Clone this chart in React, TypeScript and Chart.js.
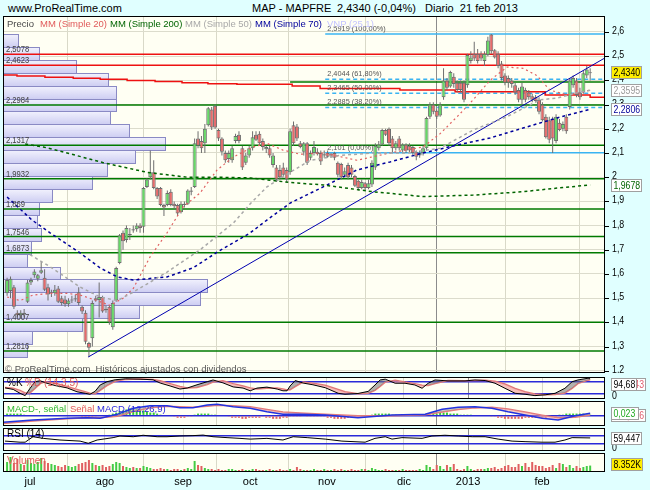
import React, { useEffect, useRef } from 'react';
import { Chart, registerables } from 'chart.js';

Chart.register(...registerables);

const FONT = '"Liberation Sans", Arial, Helvetica, sans-serif';

// ---------------- axis data ----------------
const monthTickIdx = [6.7, 28.7, 51.6, 71.3, 93.8, 116.4, 135.2, 156.9];
const monthLabels = ['jul', 'ago', 'sep', 'oct', 'nov', 'dic', '2013', 'feb'];
const priceTicks = [1.2, 1.3, 1.4, 1.5, 1.6, 1.7, 1.8, 1.9, 2.0, 2.1, 2.2, 2.3, 2.4, 2.5, 2.6];
const priceTickLabels = ['1,2', '1,3', '1,4', '1,5', '1,6', '1,7', '1,8', '1,9', '2', '2,1', '2,2', '2,3', '2,4', '2,5', '2,6'];

// ---------------- daily candles [open, high, low, close] ----------------
const ohlc: number[][] = [
  [1.52, 1.585, 1.51, 1.575], [1.53, 1.59, 1.5, 1.58], [1.545, 1.555, 1.455, 1.465], [1.44, 1.45, 1.42, 1.43], [1.43, 1.45, 1.415, 1.44],
  [1.44, 1.455, 1.42, 1.435], [1.485, 1.575, 1.48, 1.565], [1.565, 1.585, 1.555, 1.575], [1.595, 1.62, 1.585, 1.61], [1.58, 1.6, 1.57, 1.595],
  [1.605, 1.65, 1.6, 1.615], [1.585, 1.62, 1.53, 1.535], [1.545, 1.56, 1.49, 1.515], [1.52, 1.535, 1.505, 1.525], [1.52, 1.555, 1.51, 1.535],
  [1.54, 1.55, 1.48, 1.485], [1.5, 1.51, 1.47, 1.48], [1.495, 1.51, 1.465, 1.475], [1.475, 1.5, 1.465, 1.49], [1.49, 1.51, 1.48, 1.495],
  [1.495, 1.515, 1.485, 1.5], [1.525, 1.545, 1.47, 1.48], [1.465, 1.47, 1.435, 1.445], [1.44, 1.45, 1.31, 1.32], [1.315, 1.32, 1.257, 1.295],
  [1.335, 1.49, 1.3, 1.48], [1.5, 1.51, 1.485, 1.49], [1.493, 1.565, 1.42, 1.505], [1.505, 1.51, 1.44, 1.445], [1.455, 1.47, 1.44, 1.45],
  [1.465, 1.47, 1.39, 1.4], [1.38, 1.49, 1.37, 1.48], [1.49, 1.63, 1.485, 1.625], [1.645, 1.765, 1.64, 1.76], [1.77, 1.78, 1.7, 1.735],
  [1.74, 1.8, 1.73, 1.79], [1.76, 1.79, 1.74, 1.765], [1.785, 1.8, 1.77, 1.78], [1.785, 1.81, 1.775, 1.8], [1.8, 1.81, 1.77, 1.79],
  [1.795, 1.96, 1.77, 1.955], [1.96, 1.995, 1.955, 1.99], [2.0, 2.11, 1.99, 2.02], [2.02, 2.07, 1.95, 1.955], [1.955, 1.96, 1.91, 1.92],
  [1.955, 1.96, 1.88, 1.885], [1.885, 1.89, 1.84, 1.875], [1.885, 1.945, 1.88, 1.935], [1.94, 1.95, 1.88, 1.885], [1.89, 1.9, 1.87, 1.88],
  [1.885, 1.89, 1.84, 1.85], [1.855, 1.9, 1.85, 1.89], [1.89, 1.9, 1.875, 1.885], [1.89, 1.95, 1.885, 1.945], [1.94, 1.96, 1.925, 1.945],
  [1.96, 2.16, 1.955, 2.14], [2.16, 2.19, 2.12, 2.13], [2.15, 2.17, 2.1, 2.12], [2.14, 2.22, 2.1, 2.2], [2.215, 2.29, 2.21, 2.285],
  [2.28, 2.29, 2.195, 2.205], [2.295, 2.3, 2.2, 2.205], [2.195, 2.2, 2.15, 2.16], [2.16, 2.165, 2.09, 2.105], [2.1, 2.11, 2.06, 2.07],
  [2.075, 2.11, 2.06, 2.1], [2.07, 2.13, 2.06, 2.12], [2.15, 2.18, 2.14, 2.17], [2.175, 2.19, 2.14, 2.15], [2.12, 2.13, 2.03, 2.04],
  [2.06, 2.1, 2.05, 2.09], [2.09, 2.13, 2.08, 2.12], [2.12, 2.19, 2.11, 2.165], [2.175, 2.19, 2.15, 2.155], [2.18, 2.19, 2.13, 2.14],
  [2.15, 2.16, 2.11, 2.125], [2.115, 2.13, 2.1, 2.125], [2.12, 2.13, 2.08, 2.09], [2.05, 2.1, 2.04, 2.09], [2.04, 2.05, 1.98, 1.99],
  [2.03, 2.05, 1.99, 2.0], [2.04, 2.06, 2.0, 2.01], [2.03, 2.04, 1.98, 1.99], [2.02, 2.2, 2.01, 2.19], [2.215, 2.23, 2.13, 2.14],
  [2.21, 2.22, 2.15, 2.16], [2.14, 2.15, 2.12, 2.125], [2.105, 2.145, 2.09, 2.14], [2.14, 2.145, 2.05, 2.06], [2.08, 2.11, 2.07, 2.1],
  [2.1, 2.15, 2.09, 2.125], [2.105, 2.12, 2.09, 2.095], [2.1, 2.11, 2.05, 2.065], [2.09, 2.11, 2.08, 2.095], [2.1, 2.11, 2.08, 2.085],
  [2.09, 2.1, 2.08, 2.095], [2.1, 2.105, 2.07, 2.08], [2.06, 2.065, 2.0, 2.01], [2.055, 2.06, 1.99, 2.0], [2.01, 2.04, 2.0, 2.025],
  [2.05, 2.06, 1.99, 2.0], [2.04, 2.05, 2.0, 2.01], [2.005, 2.01, 1.96, 1.965], [1.985, 1.99, 1.945, 1.955], [1.955, 1.99, 1.95, 1.98],
  [1.975, 1.98, 1.945, 1.955], [1.955, 1.99, 1.95, 1.975], [1.97, 2.07, 1.96, 2.06], [2.04, 2.14, 2.03, 2.13], [2.12, 2.15, 2.11, 2.135],
  [2.135, 2.2, 2.13, 2.195], [2.195, 2.2, 2.17, 2.175], [2.2, 2.205, 2.13, 2.14], [2.16, 2.17, 2.1, 2.12], [2.12, 2.15, 2.11, 2.14],
  [2.16, 2.17, 2.11, 2.12], [2.11, 2.14, 2.1, 2.135], [2.135, 2.14, 2.1, 2.11], [2.13, 2.14, 2.1, 2.11], [2.125, 2.13, 2.09, 2.1],
  [2.105, 2.11, 2.07, 2.085], [2.09, 2.11, 2.08, 2.1], [2.1, 2.13, 2.09, 2.12], [2.12, 2.25, 2.11, 2.245], [2.25, 2.31, 2.24, 2.3],
  [2.3, 2.31, 2.26, 2.27], [2.275, 2.28, 2.24, 2.25], [2.255, 2.31, 2.25, 2.3], [2.33, 2.45, 2.32, 2.4], [2.4, 2.41, 2.36, 2.37],
  [2.375, 2.44, 2.37, 2.435], [2.415, 2.43, 2.37, 2.385], [2.39, 2.4, 2.35, 2.36], [2.39, 2.4, 2.35, 2.36], [2.39, 2.4, 2.31, 2.32],
  [2.38, 2.51, 2.37, 2.505], [2.48, 2.52, 2.47, 2.495], [2.51, 2.56, 2.48, 2.49], [2.51, 2.53, 2.47, 2.48], [2.51, 2.52, 2.48, 2.49],
  [2.48, 2.52, 2.46, 2.51], [2.505, 2.58, 2.5, 2.565], [2.59, 2.592, 2.51, 2.52], [2.525, 2.53, 2.49, 2.495], [2.51, 2.52, 2.45, 2.46],
  [2.47, 2.48, 2.4, 2.41], [2.42, 2.43, 2.38, 2.39], [2.41, 2.42, 2.37, 2.39], [2.4, 2.41, 2.37, 2.385], [2.38, 2.39, 2.34, 2.35],
  [2.36, 2.37, 2.31, 2.32], [2.32, 2.39, 2.3, 2.375], [2.36, 2.37, 2.31, 2.32], [2.35, 2.36, 2.32, 2.33], [2.335, 2.345, 2.31, 2.32],
  [2.33, 2.34, 2.31, 2.315], [2.32, 2.33, 2.26, 2.27], [2.3, 2.31, 2.23, 2.235], [2.25, 2.26, 2.16, 2.165], [2.235, 2.25, 2.14, 2.155],
  [2.24, 2.25, 2.1, 2.16], [2.15, 2.26, 2.14, 2.25], [2.225, 2.24, 2.19, 2.195], [2.2, 2.23, 2.19, 2.22], [2.25, 2.26, 2.18, 2.19],
  [2.29, 2.41, 2.28, 2.4], [2.38, 2.42, 2.37, 2.41], [2.4, 2.41, 2.33, 2.34], [2.35, 2.37, 2.32, 2.33], [2.35, 2.44, 2.345, 2.43],
  [2.42, 2.46, 2.41, 2.445], [2.43, 2.45, 2.4, 2.434],
];

// daily volume (thousands)
const volumeK: number[] = [
  13, 19.5, 11.7, 16.9, 10.4, 9.1, 15.6, 11.7, 10.4, 13, 18.2, 14.3, 11.7, 10.4, 9.1,
  7.8, 6.5, 9.1, 7.8, 6.5, 7.8, 10.4, 11.7, 13, 15.6, 11.7, 9.1, 7.8, 9.1, 6.5, 7.8,
  10.4, 13, 11.7, 7.8, 6.5, 5.2, 6.5, 5.2, 5.2, 7.8,
  6.5, 5.2, 3.9, 3.9, 5.2, 3.9, 3.9, 2.6, 3.9, 3.9, 2.6, 3.9, 5.2, 3.9, 14.3, 9.1,
  7.8, 5.2, 3.9, 3.9, 2.6, 3.9, 2.6, 2.6, 3.9, 3.9, 2.6, 2.6, 3.9, 2.6, 2.6, 3.9, 3.9, 2.6, 2.6, 2.6, 3.9, 2.6, 2.6, 3.9, 2.6, 2.6, 3.9, 2.6, 6.5, 3.9, 2.6, 2.6, 2.6, 3.9, 2.6, 2.6, 3.9, 2.6,
  2.6, 3.9, 2.6, 3.9, 2.6, 2.6, 3.9, 2.6, 2.6, 3.9, 3.9, 2.6, 5.2, 3.9, 2.6, 2.6, 3.9, 2.6, 2.6, 2.6, 2.6, 3.9, 2.6, 2.6, 2.6, 2.6, 3.9, 2.6,
  9.1, 6.5, 3.9, 9.1, 7.8, 3.9, 9.1, 6.5, 10.4, 3.9, 2.6, 3.9, 7.8,
  3.9, 2.6, 3.9, 3.9, 3.9, 5.2, 5.2, 6.5, 3.9, 5.2, 7.8, 9.1, 6.5, 6.5, 10.4, 7.8, 11.7, 6.5, 13, 9.1, 7.8, 7.8, 5.2, 6.5, 9.1, 5.2, 11.7, 10.4, 6.5, 9.1, 5.2, 7.8, 5.2, 6.5, 7.8, 8.352,
];

// ---------------- moving averages (day index, price) ----------------
const ma20Idx = [0, 3.8, 7.6, 12.6, 17.6, 21.4, 26.4, 30.2, 34, 37, 41.9, 46.9, 51.6, 56.6, 61.6, 66.3, 72.1, 76.2, 80.9, 85.9, 92.7, 102.6, 112.3, 122, 127, 132, 136.7, 141.6, 146.6, 151.3, 155.4, 159.2, 164.2, 168, 171];
const ma20Val = [1.505, 1.49, 1.513, 1.52, 1.52, 1.513, 1.49, 1.47, 1.5, 1.54, 1.67, 1.77, 1.877, 1.935, 2.03, 2.083, 2.125, 2.14, 2.112, 2.095, 2.1, 2.07, 2.1, 2.125, 2.18, 2.25, 2.32, 2.4, 2.455, 2.45, 2.42, 2.36, 2.34, 2.35, 2.36];
const ma50Idx = [6.7, 12.6, 21.4, 27.3, 32.3, 37, 46.9, 56.6, 66.3, 71.3, 76.2, 83, 88.9, 97.7, 107.3, 117.3, 127, 136.7, 146.6, 156.3, 161.3, 168, 171];
const ma50Val = [1.68, 1.63, 1.546, 1.505, 1.49, 1.525, 1.608, 1.7, 1.81, 1.89, 1.96, 2.02, 2.07, 2.09, 2.1, 2.1, 2.12, 2.195, 2.25, 2.32, 2.327, 2.352, 2.3595];
const ma70Idx = [0, 7.3, 12.6, 21.4, 27.3, 32.3, 37, 46.9, 54.5, 61.6, 71.3, 76.2, 83, 92.7, 102.6, 112.3, 122, 132, 141.6, 151.3, 161.3, 171];
const ma70Val = [1.918, 1.823, 1.77, 1.687, 1.625, 1.588, 1.575, 1.588, 1.625, 1.69, 1.77, 1.823, 1.893, 1.96, 2.03, 2.063, 2.1, 2.133, 2.162, 2.203, 2.245, 2.2806];
const ma200Idx = [5.3, 10.6, 17.6, 28.2, 41.1, 46.9, 52.8, 61.6, 71.3, 83, 92.7, 107.3, 122, 136.7, 151.3, 161.3, 171];
const ma200Val = [2.137, 2.125, 2.1, 2.06, 2.02, 2.01, 2.0, 2.0, 1.997, 1.978, 1.968, 1.94, 1.92, 1.926, 1.94, 1.955, 1.9678];

// trendline and levels
const trendIdx = [23.8, 175.35];
const trendVal = [1.257, 2.493];
const redLevels = [2.5078, 2.4623];
const greenLevels = [2.2984, 2.1317, 1.9932, 1.869, 1.7546, 1.6873, 1.4007, 1.2816];
const greenPartialIdx = 83;
const greenPartialVal = 2.393;
const redStepIdx = [-1.2, 2.9, 11.1, 19.4, 27.3, 35.2, 43.4, 51.3, 58.9, 67.4, 83.6, 91.8, 115.2, 131.4, 157.8, 171, 175.35];
const redStepVal = [2.422, 2.418, 2.413, 2.409, 2.405, 2.4, 2.395, 2.39, 2.386, 2.384, 2.377, 2.367, 2.36, 2.353, 2.34, 2.33, 2.33];
const fibStartIdx = 93.3;
const fibLevels = [2.5919, 2.4044, 2.3465, 2.2885, 2.101];
const fibPct = ['100,00%', '61,80%', '50,00%', '38,20%', '0,00%'];

// volume-by-price profile (25 bins, bottom to top)
const profileRange = [1.257, 2.5919];
const profileVol = [24, 29, 79, 136, 197, 204, 57, 24, 28, 38, 34, 36, 49, 89, 104, 132, 162, 126, 107, 113, 113, 105, 73, 36, 15];

// ---------------- indicators ----------------
const stochIdx = [-0.6, 1.8, 3.8, 5.3, 6.7, 8.2, 9.7, 11.1, 14.1, 17.6, 20.5, 22.9, 24.3, 25.8, 27.3, 29.3, 31.7, 34.8, 39, 42.8, 44.9, 47.8, 50.7, 52.8, 55.7, 58.7, 60.4, 63.3, 66.3, 69.2, 71.3, 73.3, 76.2, 79.2, 80.9, 82.1, 83, 84.5, 86.8, 89.7, 93.3, 97.1, 99.1, 102.9, 105.9, 107.9, 109.4, 110.9, 113.8, 116.7, 119.6, 121.7, 123.5, 125.5, 129.3, 134.3, 137.2, 140.2, 143.1, 146, 149, 151.9, 154.8, 157.8, 160.7, 163.6, 165.7, 167.4, 170.4, 171];
const stochK = [48, 40, 20, 8, 45, 80, 85, 75, 60, 48, 28, 20, 15, 30, 63, 80, 90, 95, 93, 90, 73, 58, 42, 47, 64, 80, 89, 74, 53, 47, 33, 47, 52, 42, 33, 33, 58, 86, 73, 64, 49, 20, 15, 19, 30, 63, 89, 93, 72, 72, 63, 46, 72, 89, 84, 84, 89, 86, 72, 46, 20, 15, 8, 12, 20, 46, 80, 89, 98, 94.68];
const stochD = [50, 46, 35, 22, 22, 45, 70, 80, 72, 55, 40, 28, 20, 18, 35, 60, 82, 92, 94, 92, 85, 70, 55, 47, 50, 65, 78, 85, 70, 58, 48, 42, 46, 48, 42, 37, 38, 55, 78, 72, 62, 40, 28, 18, 20, 35, 55, 78, 88, 78, 70, 62, 60, 70, 86, 85, 86, 88, 82, 68, 45, 28, 16, 12, 14, 22, 45, 70, 88, 89.43];

const macdIdx = [-1.2, 7.6, 17.6, 23.5, 27.3, 32.3, 37, 41.9, 46.9, 50.7, 54.5, 58.7, 61.6, 66.3, 71.3, 76.2, 80.9, 85.9, 93.3, 102.9, 112.9, 122.6, 127.6, 132.3, 137.2, 142.2, 146.9, 151.9, 156.9, 161.6, 166.6, 171];
const macdLine = [-0.063, -0.041, -0.025, -0.019, -0.025, 0.013, 0.071, 0.096, 0.096, 0.077, 0.077, 0.103, 0.109, 0.086, 0.071, 0.038, 0.013, 0.013, 0.007, -0.019, 0.007, 0.013, 0.061, 0.081, 0.086, 0.071, 0.038, 0.007, -0.025, -0.041, 0, 0.023];
const macdSignal = [-0.075, -0.05, -0.03, -0.02, -0.02, -0.005, 0.04, 0.075, 0.09, 0.085, 0.08, 0.09, 0.1, 0.095, 0.085, 0.06, 0.035, 0.025, 0.015, 0, 0, 0.01, 0.035, 0.06, 0.075, 0.08, 0.065, 0.035, 0.005, -0.02, -0.015, 0.006];
// histogram per day, in hundredths
const macdHist = [
  2, 2, 2, 2, 2, 1,
  0, 0, 0, 0, 0, 0, 0, 0, 0, 0, 0, 0, 0, 0, 0, 0,
  -2, -2, -2, -2, -1, 0, 0, 0,
  1, 2, 3, 4, 5, 6, 7, 7, 6, 6, 5, 4, 3, 3, 2, 1,
  0, 0, 0, -1, -2, -2, -2, -1, -1,
  1, 2, 2, 2, 2, 1, 1, 0, 0, 0,
  -1, -2, -2, -2, -3, -3, -2, -2, -2, -2, -1, -2, -2, -3, -3, -3, -2, -2, -1,
  -1, -1, -1, 0, -1, -1, -1, -1, -1,
  -1, -2, -2, -3, -3, -3, -3, -2, -2, -2, -2, -2, -1, -1,
  1, 2, 2, 2, 2, 2, 1, 1,
  0, 0, 0, 0, 0, 0, 0, 1, 1, 1, 2,
  2, 3, 3, 3, 2, 2, 2, 1, 1, 1,
  1, 0, 0, 0, 0, 0,
  -1, -1, -2, -2, -3, -3, -3, -3, -3, -3, -2, -2, -2, -2, -2, -2, -2, -1, -1, -1,
  1, 1, 2, 2, 2, 2, 2, 2, 1, 1,
];

const rsiIdx = [-0.6, 3.8, 5.3, 7.6, 10.6, 15.5, 21.4, 23.8, 26.4, 31.1, 33.1, 37, 39.9, 44, 46.9, 50.7, 54.5, 57.5, 60.4, 64.5, 68.3, 71.3, 76.2, 80.9, 83.9, 88, 93.3, 98.2, 105, 107.9, 110.9, 112.9, 115.8, 121.7, 124.6, 128.4, 132.3, 136.4, 140.2, 144, 148.1, 151.9, 156.9, 160.7, 163.6, 165.7, 171];
const rsiVal = [42, 36, 36, 66, 57, 48, 42, 30, 48, 61, 70, 66, 74, 66, 66, 70, 72, 75, 66, 61, 57, 53, 57, 48, 66, 61, 53, 42, 36, 57, 66, 53, 61, 57, 70, 74, 70, 66, 66, 53, 42, 39, 36, 36, 48, 61, 59.447];

// ---------------- helpers ----------------
const X_MIN = -1.2;
const X_MAX = 175.35;
const PLOT_BG = '#fffff3';
const GRID = '#d9d9c8';
const LEVEL_BLUE = '#2a2ad8';
const UP = '#66d966';
const DOWN = '#e66a6a';

type Pt = { x: number; y: number };
const pts = (xs: number[], ys: number[]): Pt[] => xs.map((x, i) => ({ x, y: ys[i] }));
const flat = (x0: number, x1: number, v: number): Pt[] => [{ x: x0, y: v }, { x: x1, y: v }];
const fmt = (v: number, d: number) => v.toFixed(d).replace('.', ',');
const last = (a: number[]) => a[a.length - 1];
const isUp = (c: number[]) => c[3] >= c[0];

// draw horizontally condensed text
function nText(ctx: any, text: string, x: number, y: number, size: number, sx: number, align: string = 'left', baseline: string = 'middle') {
  ctx.save();
  ctx.font = `${size}px ${FONT}`;
  ctx.textAlign = align;
  ctx.textBaseline = baseline;
  ctx.translate(x, y);
  ctx.scale(sx, 1);
  ctx.fillText(text, 0, 0);
  ctx.restore();
}

function xScale(labels: boolean, height: number) {
  return {
    type: 'linear',
    min: X_MIN,
    max: X_MAX,
    offset: false,
    afterBuildTicks: (s: any) => {
      s.ticks = monthTickIdx.map((v) => ({ value: v }));
    },
    afterFit: (s: any) => {
      s.height = height;
    },
    border: { display: false },
    grid: {
      drawTicks: false,
      lineWidth: 1,
      color: (c: any) => (c.tick && c.tick.value === monthTickIdx[6] ? '#8c8c8c' : GRID),
    },
    ticks: {
      display: labels,
      autoSkip: false,
      maxRotation: 0,
      padding: 3,
      color: '#000',
      font: { size: 11, family: FONT },
      callback: (_v: any, i: number) => monthLabels[i],
    },
  };
}

function yScale(min: number, max: number, ticks: number[], color: string, width: number) {
  return {
    type: 'linear',
    position: 'right',
    min,
    max,
    afterBuildTicks: (s: any) => {
      s.ticks = ticks.map((v) => ({ value: v }));
    },
    afterFit: (s: any) => {
      s.width = 45;
    },
    border: { display: false },
    grid: { drawTicks: false, color, lineWidth: width },
    ticks: { display: false },
  };
}

function line(data: Pt[], color: string, width: number, dash: number[], order: number, extra: any = {}) {
  return {
    type: 'line',
    data,
    borderColor: color,
    borderWidth: width,
    borderDash: dash,
    pointRadius: 0,
    fill: false,
    tension: 0,
    order,
    ...extra,
  };
}

type Box = { v: number; text: string; bg: string; color: string; dx?: number; w?: number; align?: 'left' | 'right' };
type PanelOpts = {
  ticks?: [number, string, boolean][];
  boxes?: Box[];
  clamp?: boolean;
  before?: (chart: any) => void;
  extra?: (chart: any) => void;
};

function panelPlugin(opts: PanelOpts) {
  return {
    id: 'panel',
    beforeDraw(chart: any) {
      const { ctx, chartArea: a } = chart;
      ctx.save();
      ctx.fillStyle = PLOT_BG;
      ctx.fillRect(a.left, a.top, a.right - a.left, a.bottom - a.top);
      ctx.restore();
    },
    beforeDatasetsDraw(chart: any) {
      if (opts.before) opts.before(chart);
    },
    afterDatasetsDraw(chart: any) {
      if (opts.extra) opts.extra(chart);
    },
    afterDraw(chart: any) {
      const { ctx, chartArea: a } = chart;
      const y = chart.scales.y;
      ctx.save();
      ctx.strokeStyle = '#000';
      ctx.lineWidth = 1;
      ctx.strokeRect(Math.round(a.left) + 0.5, Math.round(a.top) + 0.5, Math.round(a.right - a.left) - 1, Math.round(a.bottom - a.top) - 1);
      for (const [v, t, mark] of opts.ticks || []) {
        const py = Math.round(y.getPixelForValue(v)) + 0.5;
        if (mark) {
          ctx.strokeStyle = '#000';
          ctx.beginPath();
          ctx.moveTo(a.right, py);
          ctx.lineTo(a.right + 4, py);
          ctx.stroke();
        }
        ctx.fillStyle = '#000';
        nText(ctx, t, a.right + 7, py - 1, 10.5, 0.84);
      }
      for (const b of opts.boxes || []) {
        let cy = y.getPixelForValue(b.v);
        if (opts.clamp) cy = Math.max(a.top + 7, Math.min(a.bottom - 8, cy));
        const h = 12;
        const w = b.w ?? 30;
        const x0 = Math.round(a.right) + (b.dx ?? 6) + 0.5;
        const top = Math.round(cy - h / 2) + 0.5;
        ctx.fillStyle = b.bg;
        ctx.fillRect(x0, top, w, h);
        ctx.strokeStyle = '#a0a0a0';
        ctx.lineWidth = 1;
        ctx.strokeRect(x0, top, w, h);
        ctx.fillStyle = b.color;
        if (b.align === 'right') nText(ctx, b.text, x0 + w - 1.5, top + h / 2 + 0.5, 10.5, 0.83, 'right');
        else nText(ctx, b.text, x0 + 2, top + h / 2 + 0.5, 10.5, 0.83, 'left');
      }
      ctx.restore();
    },
  };
}

const common: any = {
  animation: false,
  responsive: false,
  maintainAspectRatio: false,
  devicePixelRatio: 1,
  events: [],
  layout: { padding: 0 },
  plugins: { legend: { display: false }, tooltip: { enabled: false } },
};

// ---------------- charts ----------------
function mainConfig(): any {
  const datasets: any[] = [];
  redLevels.forEach((v) => datasets.push(line(flat(X_MIN, X_MAX, v), '#ee1111', 1.5, [], 50)));
  greenLevels.forEach((v) => datasets.push(line(flat(X_MIN, X_MAX, v), '#007a00', 1.5, [], 50)));
  datasets.push(line(flat(greenPartialIdx, X_MAX, greenPartialVal), '#007a00', 1.5, [], 50));
  datasets.push(line(pts(redStepIdx, redStepVal), '#ee1111', 1.5, [], 50, { stepped: true }));
  fibLevels.forEach((v, i) =>
    datasets.push(line(flat(fibStartIdx, X_MAX, v), '#3ab4f2', 1.5, i === 0 || i === fibLevels.length - 1 ? [] : [4, 3], 50)),
  );
  datasets.push({
    type: 'bar',
    data: ohlc.map((c, i) => ({ x: i, y: [c[2], c[1]] })),
    backgroundColor: '#6e6e6e',
    barThickness: 1,
    grouped: false,
    inflateAmount: 0,
    order: 30,
  });
  datasets.push({
    type: 'bar',
    data: ohlc.map((c, i) => ({ x: i, y: [c[0], c[3]] })),
    backgroundColor: ohlc.map((c) => (isUp(c) ? UP : DOWN)),
    borderColor: '#6e6e6e',
    borderWidth: 1,
    borderSkipped: false,
    barThickness: 4,
    minBarLength: 1,
    grouped: false,
    inflateAmount: 0,
    order: 29,
  });
  datasets.push(line(pts(trendIdx, trendVal), '#0000b0', 1, [], 20));
  datasets.push(line(pts(ma200Idx, ma200Val), '#006400', 1.5, [3, 3], 10));
  datasets.push(line(pts(ma50Idx, ma50Val), '#a8a8a8', 1.5, [3, 3], 10));
  datasets.push(line(pts(ma70Idx, ma70Val), '#00009c', 1.5, [3, 3], 10));
  datasets.push(line(pts(ma20Idx, ma20Val), '#e06060', 1.2, [2, 3], 10));

  const plugin = panelPlugin({
    ticks: priceTicks.map((v, i) => [v, priceTickLabels[i], true] as [number, string, boolean]),
    boxes: [
      { v: last(ohlc)[3], text: fmt(last(ohlc)[3], 4), bg: '#ffee00', color: '#000' },
      { v: last(ma50Val), text: fmt(last(ma50Val), 4), bg: '#ffffff', color: '#9a9a9a' },
      { v: last(ma70Val), text: fmt(last(ma70Val), 4), bg: '#ffffff', color: '#000099' },
      { v: last(ma200Val), text: fmt(last(ma200Val), 4), bg: '#ffffff', color: '#006400' },
    ],
    before: (chart: any) => {
      const { ctx } = chart;
      const y = chart.scales.y;
      const xp = chart.scales.xp;
      const step = (profileRange[1] - profileRange[0]) / profileVol.length;
      ctx.save();
      profileVol.forEach((v, k) => {
        const top = Math.round(y.getPixelForValue(profileRange[0] + (k + 1) * step)) + 0.5;
        const bot = Math.round(y.getPixelForValue(profileRange[0] + k * step)) + 0.5;
        const left = Math.round(xp.getPixelForValue(0)) + 0.5;
        const right = Math.round(xp.getPixelForValue(v)) + 0.5;
        const g = ctx.createLinearGradient(0, top, 0, bot);
        g.addColorStop(0, '#f1f1fd');
        g.addColorStop(1, '#cdcdf2');
        ctx.fillStyle = g;
        ctx.fillRect(left, top, right - left, bot - top);
        ctx.strokeStyle = '#8a8ac4';
        ctx.lineWidth = 1;
        ctx.strokeRect(left, top, right - left, bot - top);
      });
      ctx.restore();
    },
    extra: (chart: any) => {
      const { ctx, chartArea: a } = chart;
      const y = chart.scales.y;
      const x = chart.scales.x;
      ctx.save();
      ctx.fillStyle = '#404040';
      [...redLevels, ...greenLevels].forEach((v) =>
        nText(ctx, String(v).replace('.', ','), a.left + 3, y.getPixelForValue(v) - 2, 9.5, 0.8, 'left', 'alphabetic'),
      );
      const fx = x.getPixelForValue(fibStartIdx) + 2;
      ctx.fillStyle = '#555';
      fibLevels.forEach((v, i) =>
        nText(ctx, `${String(v).replace('.', ',')} (${fibPct[i]})`, fx, y.getPixelForValue(v) - 3, 8, 0.92, 'left', 'alphabetic'),
      );
      ctx.restore();
    },
  });

  return {
    type: 'line',
    data: { datasets },
    options: {
      ...common,
      scales: {
        x: xScale(false, 0),
        y: yScale(1.1909, 2.6661, priceTicks, '#dcdccc', 1),
        xp: { type: 'linear', display: false, min: 0, max: 602 },
      },
    },
    plugins: [plugin],
  };
}

function stochConfig(): any {
  return {
    type: 'line',
    data: {
      datasets: [
        line(pts(stochIdx, stochK), '#000', 1, [], 5, {
          fill: { target: '+1', above: 'rgba(115,115,115,0.55)', below: 'rgba(240,150,150,0.6)' },
        }),
        line(pts(stochIdx, stochD), '#e87878', 1.5, [], 6),
      ],
    },
    options: { ...common, scales: { x: xScale(false, 0), y: yScale(-9.5, 104.3, [20, 80], LEVEL_BLUE, 1.5) } },
    plugins: [
      panelPlugin({
        clamp: true,
        ticks: [[0, '0', false]],
        boxes: [
          { v: last(stochD), text: fmt(last(stochD), 2), bg: '#fff', color: '#e06070', w: 34, align: 'right' },
          { v: last(stochK), text: fmt(last(stochK), 2), bg: '#fff', color: '#000', w: 25 },
        ],
      }),
    ],
  };
}

function macdConfig(): any {
  return {
    type: 'line',
    data: {
      datasets: [
        {
          type: 'bar',
          data: macdHist.map((h, i) => ({ x: i, y: h / 100 })),
          backgroundColor: macdHist.map((h) => (h >= 0 ? '#33cc33' : '#e06060')),
          barThickness: 2,
          grouped: false,
          inflateAmount: 0,
          order: 20,
        },
        line(pts(macdIdx, macdLine), '#2233e0', 1.5, [], 5, {
          fill: { target: '+1', above: 'rgba(150,150,150,0.5)', below: 'rgba(240,160,160,0.5)' },
        }),
        line(pts(macdIdx, macdSignal), '#e87878', 1.5, [], 6),
      ],
    },
    options: { ...common, scales: { x: xScale(false, 0), y: yScale(-0.0989, 0.141, [0], LEVEL_BLUE, 1.5) } },
    plugins: [
      panelPlugin({
        clamp: true,
        boxes: [
          { v: last(macdSignal), text: fmt(last(macdSignal), 3), bg: '#fff', color: '#e06070', w: 34, align: 'right' },
          { v: last(macdLine), text: fmt(last(macdLine), 3), bg: '#fff', color: '#22aa22', w: 27 },
        ],
      }),
    ],
  };
}

function rsiConfig(): any {
  return {
    type: 'line',
    data: { datasets: [line(pts(rsiIdx, rsiVal), '#000', 1, [], 5)] },
    options: { ...common, scales: { x: xScale(false, 0), y: yScale(-12.2, 113.8, [30, 70], LEVEL_BLUE, 1.5) } },
    plugins: [
      panelPlugin({
        clamp: true,
        ticks: [[0, '0', false]],
        boxes: [{ v: last(rsiVal), text: fmt(last(rsiVal), 3), bg: '#fff', color: '#000', w: 30 }],
      }),
    ],
  };
}

function volConfig(): any {
  return {
    type: 'line',
    data: {
      datasets: [
        {
          type: 'bar',
          data: volumeK.map((v, i) => ({ x: i, y: v })),
          backgroundColor: ohlc.map((c) => (isUp(c) ? '#44cc44' : '#e06060')),
          barThickness: 2,
          grouped: false,
          inflateAmount: 0,
        },
      ],
    },
    options: { ...common, scales: { x: xScale(true, 18), y: yScale(0, 24.7, [0], 'rgba(0,0,0,0)', 1) } },
    plugins: [
      panelPlugin({
        clamp: true,
        boxes: [{ v: last(volumeK), text: `${last(volumeK).toFixed(3)}K`, bg: '#ffee00', color: '#000', w: 31 }],
      }),
    ],
  };
}

const Txt = ({ x, y, s, c, t, f = FONT }: { x: number; y: number; s: number; c: string; t: string; f?: string }) => (
  <div style={{ position: 'absolute', left: x, top: y, fontSize: s, color: c, fontFamily: f, lineHeight: 1, whiteSpace: 'pre' }}>{t}</div>
);

export default function App() {
  const mainRef = useRef<HTMLCanvasElement>(null);
  const stRef = useRef<HTMLCanvasElement>(null);
  const macdRef = useRef<HTMLCanvasElement>(null);
  const rsiRef = useRef<HTMLCanvasElement>(null);
  const volRef = useRef<HTMLCanvasElement>(null);

  useEffect(() => {
    Chart.defaults.font.family = FONT;
    const charts: Chart[] = [];
    charts.push(new Chart(mainRef.current!, mainConfig()));
    charts.push(new Chart(stRef.current!, stochConfig()));
    charts.push(new Chart(macdRef.current!, macdConfig()));
    charts.push(new Chart(rsiRef.current!, rsiConfig()));
    charts.push(new Chart(volRef.current!, volConfig()));
    return () => charts.forEach((c) => c.destroy());
  }, []);

  const cv = (top: number, h: number) => ({ position: 'absolute' as const, left: 3, top, width: 647, height: h });

  return (
    <div style={{ position: 'fixed', left: 0, top: 0, width: 650, height: 490, background: '#e0ffff', overflow: 'hidden' }}>
      <canvas ref={mainRef} width={647} height={357} style={cv(16, 357)} />
      <canvas ref={stRef} width={647} height={22} style={cv(377, 22)} />
      <canvas ref={macdRef} width={647} height={25} style={cv(401, 25)} />
      <canvas ref={rsiRef} width={647} height={23} style={cv(428, 23)} />
      <canvas ref={volRef} width={647} height={37} style={cv(453, 37)} />

      <Txt x={8} y={3} s={11} c="#000" t="www.ProRealTime.com" />
      <Txt x={252} y={3} s={11} c="#000" t="MAP - MAPFRE" />
      <Txt x={337} y={3} s={11} c="#000" t="2,4340 (-0,04%)" />
      <Txt x={425} y={3} s={11} c="#000" t="Diario  21 feb 2013" />

      <Txt x={7} y={19} s={9.5} c="#4a4a4a" t="Precio" />
      <Txt x={40} y={19} s={9.5} c="#e05a5a" t="MM (Simple 20)" />
      <Txt x={110} y={19} s={9.5} c="#006400" t="MM (Simple 200)" />
      <Txt x={185} y={19} s={9.5} c="#a8a8a8" t="MM (Simple 50)" />
      <Txt x={255} y={19} s={9.5} c="#00009c" t="MM (Simple 70)" />
      <Txt x={327} y={19} s={9.5} c="#c4c4ff" t="VNP (25,1)" />

      <Txt x={5} y={363.5} s={9.5} c="#555" t="© ProRealTime.com  Históricos ajustados con dividendos" />

      <Txt x={7} y={378} s={10} c="#000" t="%K" />
      <Txt x={25} y={378} s={10} c="#e05a5a" t="%D (14,3,5)" />
      <Txt x={7} y={403.5} s={9.5} c="#2db82d" t="MACD-, señal" />
      <Txt x={70} y={403.5} s={9.5} c="#e05a5a" t="Señal" />
      <Txt x={97} y={403.5} s={9.5} c="#2a2ae0" t="MACD (12,26,9)" />
      <Txt x={7} y={429} s={10} c="#000" t="RSI (14)" />
      <Txt x={7} y={455.5} s={10} c="#e05a5a" t="Volumen" />
    </div>
  );
}
